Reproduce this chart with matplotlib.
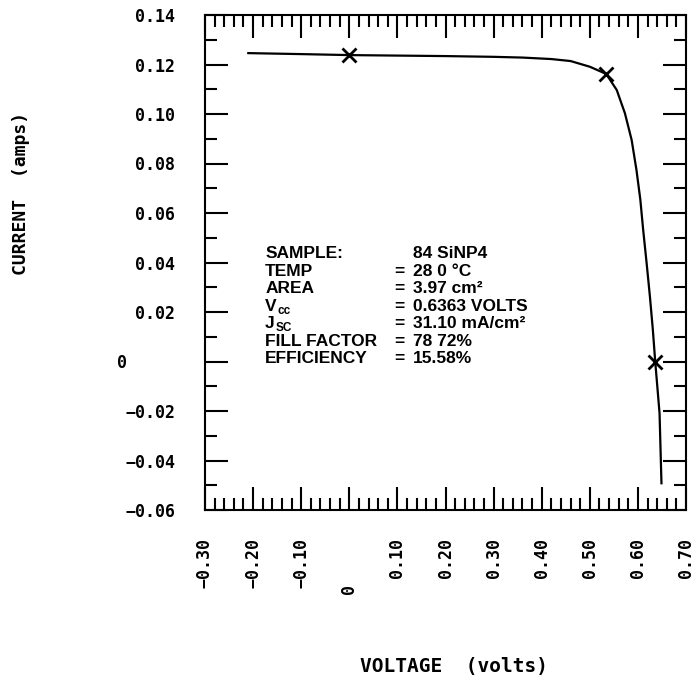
import matplotlib
matplotlib.use('Agg')
import matplotlib.pyplot as plt
from matplotlib.ticker import MultipleLocator, FuncFormatter

# I-V curve
voltage = [-0.21, -0.10, 0.0, 0.10, 0.20, 0.30, 0.36, 0.42, 0.46, 0.50,
           0.534, 0.556, 0.573, 0.587, 0.597, 0.605, 0.611, 0.618, 0.625,
           0.631, 0.636, 0.645, 0.649]
current = [0.1246, 0.1242, 0.1238, 0.1236, 0.1234, 0.1231, 0.1228, 0.1222,
           0.1214, 0.1191, 0.1162, 0.1097, 0.1003, 0.0895, 0.0774, 0.0655,
           0.0531, 0.0400, 0.0262, 0.0130, 0.0, -0.0209, -0.0492]

# marked points: Isc, max power, Voc
mark_v = [0.0, 0.534, 0.636]
mark_i = [0.1238, 0.1162, 0.0]

# sample info box (label, subscript, value)
info_labels = ['SAMPLE:', 'TEMP', 'AREA', 'V', 'J', 'FILL FACTOR', 'EFFICIENCY']
info_subs = ['', '', '', 'cc', 'SC', '', '']
info_values = ['84 SiNP4', '28 0 °C', '3.97 cm²', '0.6363 VOLTS',
               '31.10 mA/cm²', '78 72%', '15.58%']

tick_font = dict(family='DejaVu Sans Mono', weight='bold', size=12)
box_font = dict(family='Liberation Sans', weight='bold')

fig = plt.figure(figsize=(6.95, 6.99), dpi=100, facecolor='w')
ax = fig.add_axes([205/695, 1 - 510/699, 481/695, 495/699])

ax.plot(voltage, current, 'k-', lw=1.6)
ax.plot(mark_v, mark_i, 'kx', ms=10, mew=2)

ax.set_xlim(-0.30, 0.70)
ax.set_ylim(-0.06, 0.14)
ax.xaxis.set_major_locator(MultipleLocator(0.1))
ax.xaxis.set_minor_locator(MultipleLocator(0.02))
ax.yaxis.set_major_locator(MultipleLocator(0.02))
ax.yaxis.set_minor_locator(MultipleLocator(0.01))

def fmt(v, pos):
    if abs(v) < 1e-9:
        return '0'
    return f'{v:.2f}'.replace('-', '\u2212')

ax.xaxis.set_major_formatter(FuncFormatter(fmt))
ax.yaxis.set_major_formatter(FuncFormatter(fmt))

ax.tick_params(which='both', direction='in', top=True, right=True, width=1.5)
ax.tick_params(which='major', length=16.5)
ax.tick_params(which='minor', length=8.5)
ax.tick_params(axis='x', which='major', pad=20, labelrotation=90)
ax.tick_params(axis='y', which='major', pad=21.5)
for lab in ax.get_xticklabels() + ax.get_yticklabels():
    lab.set_fontproperties(tick_font)
for spine in ax.spines.values():
    spine.set_linewidth(1.5)

# the lone "0" labels sit on the leading digit of the others
for t in ax.xaxis.get_major_ticks():
    if abs(t.get_loc()) < 1e-9:
        t.set_pad(53)
for t in ax.yaxis.get_major_ticks():
    if abs(t.get_loc()) < 1e-9:
        t.set_pad(56)

ax.set_xlabel('VOLTAGE  (volts)', family='DejaVu Sans Mono', weight='bold',
              size=14)
ax.set_ylabel('CURRENT  (amps)', family='DejaVu Sans Mono', weight='bold',
              size=13)
ax.xaxis.set_label_coords(0.517, -0.297)
ax.yaxis.set_label_coords(-0.364, 0.640)

fig.canvas.draw()
renderer = fig.canvas.get_renderer()
row_y = 0.509  # baseline of first row
for lab, sub, val in zip(info_labels, info_subs, info_values):
    t = ax.text(0.125, row_y, lab, transform=ax.transAxes, va='baseline',
                size=12.5, **box_font)
    if sub:
        # subscript goes right after the letter
        bb = t.get_window_extent(renderer).transformed(ax.transAxes.inverted())
        ax.text(bb.x1 + 0.002, row_y - 0.006, sub, transform=ax.transAxes,
                va='baseline', size=8.5, **box_font)
    if lab != 'SAMPLE:':
        ax.text(0.394, row_y, '=', transform=ax.transAxes, va='baseline',
                size=12.5, **box_font)
    ax.text(0.432, row_y, val, transform=ax.transAxes, va='baseline',
            size=12.5, **box_font)
    row_y -= 0.0355

fig.savefig('out.png', dpi=100, facecolor='w')
